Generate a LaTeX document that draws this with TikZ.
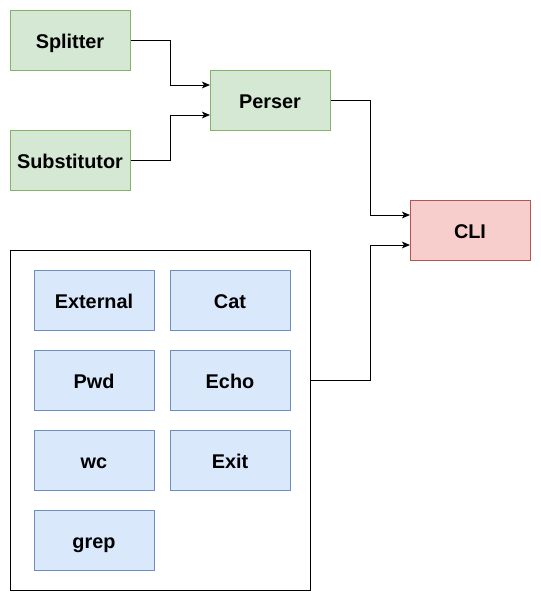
\documentclass[tikz,border=0pt]{standalone}
\usepackage{fontspec}
\setmainfont{Liberation Sans}
\usetikzlibrary{arrows.meta}
\definecolor{gfill}{HTML}{D5E8D4}\definecolor{gdraw}{HTML}{82B366}
\definecolor{rfill}{HTML}{F8CECC}\definecolor{rdraw}{HTML}{B85450}
\definecolor{bfill}{HTML}{DAE8FC}\definecolor{bdraw}{HTML}{6C8EBF}
\begin{document}
\begin{tikzpicture}[x=0.75pt,y=-0.75pt,
  box/.style={draw,line width=0.75pt,minimum width=90pt,minimum height=45pt,inner sep=0pt,
    text height=12.2pt,text depth=0pt,
    font=\fontsize{14.9}{17}\selectfont\bfseries},
  gbox/.style={box,fill=gfill,draw=gdraw},
  rbox/.style={box,fill=rfill,draw=rdraw},
  bbox/.style={box,fill=bfill,draw=bdraw},
  conn/.style={line width=0.75pt,-{Stealth[length=6pt,width=5pt,inset=1.5pt]}}]
\useasboundingbox (0,0) rectangle (541,601);
\node[gbox] (split) at (70,40) {Splitter};
\node[gbox] (subst) at (70,160) {Substitutor};
\node[gbox] (perser) at (270,100) {Perser};
\node[rbox] (cli) at (470,230) {CLI};
\node[draw,line width=0.75pt,minimum width=225pt,minimum height=255pt,inner sep=0pt] (cont) at (160,420) {};
\node[bbox] (ext) at (94,300) {External};
\node[bbox] (cat) at (230,300) {Cat};
\node[bbox] (pwd) at (94,380) {Pwd};
\node[bbox] (echo) at (230,380) {Echo};
\node[bbox] (wc) at (94,460) {wc};
\node[bbox] (exit) at (230,460) {Exit};
\node[bbox] (grep) at (94,540) {grep};
\coordinate (p1) at (210,85);
\coordinate (p2) at (210,115);
\coordinate (c1) at (410,215);
\coordinate (c2) at (410,245);
\coordinate (cout) at (310,380);
\draw[conn] (split.east) -- (170,40) |- (p1);
\draw[conn] (subst.east) -- (170,160) |- (p2);
\draw[conn] (perser.east) -- (370,100) |- (c1);
\draw[conn] (cout) -- (370,380) |- (c2);
\end{tikzpicture}
\end{document}
